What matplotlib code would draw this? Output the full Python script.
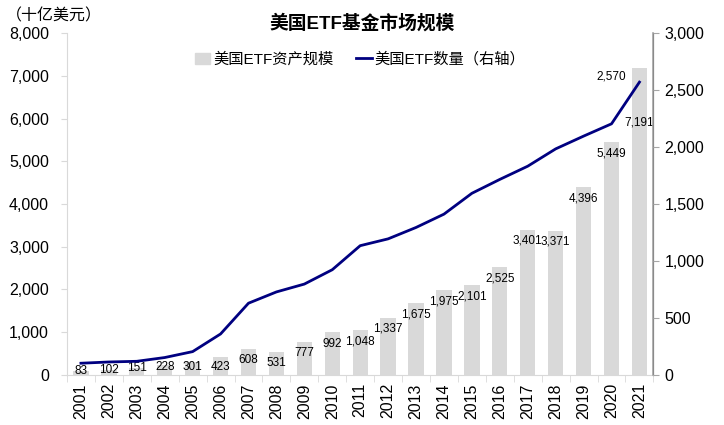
import numpy as np
import matplotlib
matplotlib.use('Agg')
import matplotlib.pyplot as plt
from matplotlib.ticker import FuncFormatter, MultipleLocator
from matplotlib.patches import Patch
from matplotlib.lines import Line2D

plt.rcParams['font.family'] = ['Liberation Sans', 'Noto Sans CJK SC', 'DejaVu Sans']

years = [str(y) for y in range(2001, 2022)]
assets = [83, 102, 151, 228, 301, 423, 608, 531, 777, 992, 1048, 1337, 1675,
          1975, 2101, 2525, 3401, 3371, 4396, 5449, 7191]
counts = [102, 113, 119, 152, 204, 359, 629, 728, 797, 923, 1134, 1194, 1294,
          1411, 1594, 1716, 1832, 1984, 2096, 2204, 2570]

bar_color = '#d9d9d9'
line_color = '#000080'

fig = plt.figure(figsize=(7.24, 4.25), dpi=100)
ax = fig.add_axes([0.0925, 0.118, 0.81, 0.804])
ax2 = ax.twinx()

x = np.arange(len(years))
ax.bar(x, assets, width=0.55, color=bar_color, zorder=1)
ax2.plot(x, counts, color=line_color, lw=2.0, zorder=3)

ax.set_xlim(-0.5, len(years) - 0.5)
ax.set_ylim(0, 8000)
ax2.set_ylim(0, 3000)
ax.yaxis.set_major_locator(MultipleLocator(1000))
ax2.yaxis.set_major_locator(MultipleLocator(500))
fmt = FuncFormatter(lambda v, p: f'{int(v):,}')
ax.yaxis.set_major_formatter(fmt)
ax2.yaxis.set_major_formatter(fmt)

ax.set_xticks(x)
ax.set_xticklabels(years, rotation=90, fontsize=11.5)
ax.tick_params(axis='x', length=0, pad=6)
ax.set_xticks(np.arange(-0.5, len(years)), minor=True)
ax.tick_params(axis='x', which='minor', length=5, color='#d9d9d9', direction='out')
ax.tick_params(axis='y', labelsize=11.5, length=4, color='#d9d9d9', pad=9)
ax2.tick_params(axis='y', labelsize=11.5, length=4, color='#a6a6a6', pad=4)

for a in (ax, ax2):
    a.spines['top'].set_visible(False)
ax.spines['left'].set_color('#d9d9d9')
ax.spines['bottom'].set_color('#d9d9d9')
ax2.spines['left'].set_visible(False)
ax2.spines['bottom'].set_visible(False)
ax2.spines['right'].set_color('#a6a6a6')
ax2.spines['right'].set_linewidth(1.2)

# bar value labels (inside end)
for i, v in enumerate(assets):
    ypos = max(v - 260, min(v, 190))
    if years[i] == '2021':
        ypos = 5900
    ax.text(i, ypos, f'{v:,}', ha='center', va='center', fontsize=8.5, zorder=5)

ax2.annotate(f'{counts[-1]:,}', (x[-1], counts[-1]), xytext=(-20, 4),
             textcoords='offset points', ha='center', va='center', fontsize=8.5)

fig.text(0.5, 0.945, '美国ETF基金市场规模', ha='center', va='center',
         fontsize=13.5, fontweight='bold')
fig.text(0.008, 0.963, '（十亿美元）', ha='left', va='center', fontsize=11.5)

handles = [Patch(color=bar_color, label='美国ETF资产规模'),
           Line2D([0], [0], color=line_color, lw=2.0, label='美国ETF数量（右轴）')]
ax.legend(handles=handles, loc='upper center', bbox_to_anchor=(0.5, 0.985),
          ncol=2, frameon=False, fontsize=11, handlelength=1.0,
          handleheight=0.8, columnspacing=1.5, handletextpad=0.2)

fig.savefig('out.png', dpi=100)
